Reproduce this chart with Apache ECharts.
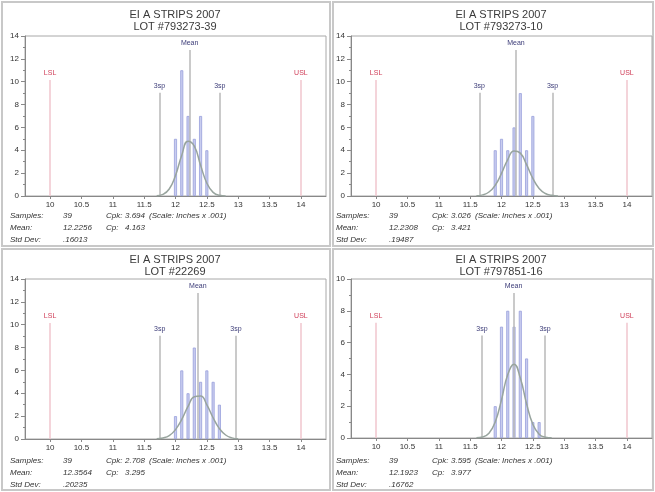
<!DOCTYPE html>
<html>
<head>
<meta charset="utf-8">
<script src="https://cdn.jsdelivr.net/npm/echarts@6/dist/echarts.min.js"></script>
<style>
  html, body { margin: 0; padding: 0; background: #fff; }
  #chart { width: 655px; height: 492px; }
</style>
</head>
<body>
<div id="chart"></div>
<script>
// data
var chartTitle = "EI A STRIPS 2007";
var lotNames = ["LOT #793273-39", "LOT #793273-10", "LOT #22269", "LOT #797851-16"];

// histogram bins (inches x .001) and counts, one pair per panel
var bins1 = [12.0, 12.1, 12.2, 12.3, 12.4, 12.5];
var counts1 = [5, 11, 7, 5, 7, 4];
var bins2 = [11.9, 12.0, 12.1, 12.2, 12.3, 12.4, 12.5];
var counts2 = [4, 5, 4, 6, 9, 4, 7];
var bins3 = [12.0, 12.1, 12.2, 12.3, 12.4, 12.5, 12.6, 12.7];
var counts3 = [2, 6, 4, 8, 5, 6, 5, 3];
var bins4 = [11.9, 12.0, 12.1, 12.2, 12.3, 12.4, 12.5, 12.6];
var counts4 = [2, 7, 8, 7, 8, 5, 1, 1];

// fitted normal curve, read at these x positions
var curveX = [11.5, 11.6, 11.7, 11.8, 11.9, 12.0, 12.1, 12.2, 12.3, 12.4, 12.5, 12.6, 12.7, 12.8, 12.9, 13.0];
var curve1 = [null, null, 0.02, 0.14, 0.61, 1.80, 3.57, 4.80, 4.36, 2.69, 1.12, 0.32, 0.06, 0.01, null, null];
var curve2 = [null, 0.02, 0.10, 0.35, 0.94, 1.98, 3.19, 3.94, 3.75, 2.74, 1.54, 0.66, 0.22, 0.06, 0.01, null];
var curve3 = [null, null, 0.02, 0.09, 0.30, 0.82, 1.72, 2.85, 3.70, 3.76, 2.99, 1.86, 0.91, 0.35, 0.10, 0.02];
var curve4 = [null, 0.01, 0.06, 0.30, 1.01, 2.40, 3.99, 4.64, 3.77, 2.15, 0.86, 0.24, 0.05, 0.01, null, null];

// spec limits and the mean / 3 sigma marks
var lsl = 10;
var usl = 14;
var meanMarks = [12.2256, 12.2308, 12.3564, 12.1923];
var lowSigma = [11.745, 11.646, 11.749, 11.689];
var highSigma = [12.706, 12.815, 12.964, 12.695];

// stats block
var samples = ["39", "39", "39", "39"];
var meanText = ["12.2256", "12.2308", "12.3564", "12.1923"];
var stdText = [".16013", ".19487", ".20235", ".16762"];
var cpkText = ["3.694", "3.026", "2.708", "3.595"];
var cpText = ["4.163", "3.421", "3.295", "3.977"];

// axes
var yMax = [14, 14, 14, 10];
var xTicks = [10, 10.5, 11, 11.5, 12, 12.5, 13, 13.5, 14];

var bins = [bins1, bins2, bins3, bins4];
var counts = [counts1, counts2, counts3, counts4];
var curves = [curve1, curve2, curve3, curve4];

var font = "Liberation Sans, Arial, sans-serif";
var boxes = [
  { left: 25, top: 36, h: 160, ox: 0, oy: 0 },
  { left: 351, top: 36, h: 160, ox: 326, oy: 0 },
  { left: 25, top: 279, h: 160, ox: 0, oy: 245 },
  { left: 351, top: 279, h: 159, ox: 326, oy: 245 }
];

var grids = [], xAxes = [], yAxes = [], series = [], graphics = [];

// panel frames
[[2, 2, 328, 244], [333, 2, 320, 244], [2, 249, 328, 241], [333, 249, 320, 241]].forEach(function (r) {
  graphics.push({
    type: "rect", silent: true, z: -10,
    shape: { x: r[0], y: r[1], width: r[2], height: r[3] },
    style: { fill: "#fff", stroke: "#c8c8c8", lineWidth: 2 }
  });
});

function txt(x, y, s, opt) {
  opt = opt || {};
  graphics.push({
    type: "text", silent: true, x: x, y: y,
    style: {
      text: s, fill: opt.color || "#333",
      font: (opt.style || "italic") + " " + (opt.size || 8) + "px " + font,
      textAlign: opt.align || "left", textVerticalAlign: "middle"
    }
  });
}

function mark(x, top, name, lineColor, labelColor) {
  return [
    {
      coord: [x, 0], name: name,
      lineStyle: { color: lineColor, width: 1.5, type: "solid" },
      label: { show: true, position: "end", formatter: name, color: labelColor, fontSize: 7, fontFamily: font, distance: 3 }
    },
    { coord: [x, top] }
  ];
}

boxes.forEach(function (b, i) {
  var ym = yMax[i];
  grids.push({ left: b.left, top: b.top, width: 301, height: b.h, show: true, borderColor: "#a8a8a8", borderWidth: 1 });
  xAxes.push({
    type: "value", gridIndex: i, min: 9.6, max: 14.4,
    axisLine: { lineStyle: { color: "#888" } },
    axisTick: { customValues: xTicks, length: 3, lineStyle: { color: "#888" } },
    axisLabel: { customValues: xTicks, fontSize: 8, color: "#333", margin: 5, fontFamily: font },
    splitLine: { show: false }
  });
  yAxes.push({
    type: "value", gridIndex: i, min: 0, max: ym, interval: 2,
    axisLine: { show: true, lineStyle: { color: "#888" } },
    axisTick: { show: true, length: 4, lineStyle: { color: "#888" } },
    minorTick: { show: true, splitNumber: 2, length: 2, lineStyle: { color: "#888" } },
    axisLabel: { fontSize: 8, color: "#333", margin: 6, fontFamily: font },
    splitLine: { show: false }
  });

  var barData = bins[i].map(function (v, k) { return [v, counts[i][k]]; });
  series.push({
    type: "bar", xAxisIndex: i, yAxisIndex: i, data: barData, barWidth: 3, z: 2,
    itemStyle: { color: "#c9cdef", borderColor: "#98a0dc", borderWidth: 0.8 },
    markLine: {
      silent: true, symbol: ["none", "none"], animation: false,
      data: [
        mark(lsl, ym * 0.725, "LSL", "#f0c6ce", "#d0405a"),
        mark(usl, ym * 0.725, "USL", "#f0c6ce", "#d0405a"),
        mark(lowSigma[i], ym * 0.645, "3sp", "#b8b8b8", "#3c3c78"),
        mark(highSigma[i], ym * 0.645, "3sp", "#b8b8b8", "#3c3c78"),
        mark(meanMarks[i], ym * 0.9125, "Mean", "#b8b8b8", "#3c3c78")
      ]
    }
  });
  series.push({
    type: "line", xAxisIndex: i, yAxisIndex: i, z: 5, smooth: true, showSymbol: false,
    data: curveX.map(function (x, k) { return [x, curves[i][k]]; }),
    lineStyle: { color: "#98a49e", width: 1.5 }
  });

  var cx = b.left + 150;
  txt(cx, 15 + b.oy, chartTitle, { style: "normal", size: 11, align: "center", color: "#3a3a3a" });
  txt(cx, 27 + b.oy, lotNames[i], { style: "normal", size: 11, align: "center", color: "#3a3a3a" });

  var sx = b.ox;
  txt(10 + sx, 216 + b.oy, "Samples:");
  txt(63 + sx, 216 + b.oy, samples[i]);
  txt(106 + sx, 216 + b.oy, "Cpk:");
  txt(125 + sx, 216 + b.oy, cpkText[i]);
  txt(149 + sx, 216 + b.oy, "(Scale: Inches x .001)");
  txt(10 + sx, 228 + b.oy, "Mean:");
  txt(63 + sx, 228 + b.oy, meanText[i]);
  txt(106 + sx, 228 + b.oy, "Cp:");
  txt(125 + sx, 228 + b.oy, cpText[i]);
  txt(10 + sx, 240 + b.oy, "Std Dev:");
  txt(63 + sx, 240 + b.oy, stdText[i]);
});

var chart = echarts.init(document.getElementById("chart"));
chart.setOption({
  animation: false,
  backgroundColor: "#fff",
  grid: grids,
  xAxis: xAxes,
  yAxis: yAxes,
  series: series,
  graphic: graphics
});
</script>
</body>
</html>
